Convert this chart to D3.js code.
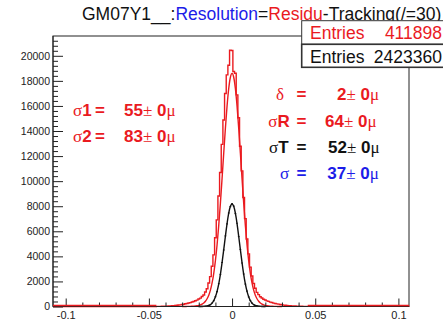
<!DOCTYPE html>
<html><head><meta charset="utf-8">
<script src="https://cdn.jsdelivr.net/npm/d3@7"></script>
<style>html,body{margin:0;padding:0;background:#fff;} svg{display:block;}</style>
</head><body>
<script>
// ---------- data ----------
const binWidth = 0.001;
const residuFirstBin = -0.045;          // centre of first bin
const residuCounts = [8,13,12,19,21,29,31,42,46,61,68,86,95,118,131,160,179,215,238,281,
  309,362,398,461,508,594,665,795,921,1160,1420,1870,2380,3210,4120,5480,6910,8820,10690,12930,
  14880,16990,18480,19250,20450,20420,18750,18610,16880,15060,12790,10820,8690,7010,5390,4200,
  3140,2430,1830,1450,1130,945,776,680,579,519,450,407,351,318,272,245,208,186,154,137,
  113,100,81,71,57,49,39,34,26,22,17,15,11,9,7];
const residuFitFirst = -0.030;
const residuFit = [2,3,4,6,9,14,20,30,44,64,93,134,196,286,420,616,902,1311,1879,2648,
  3657,4929,6470,8250,10211,12247,14226,15991,17391,18290,18600,18290,17391,15991,14226,12247,10211,8250,6470,4929,
  3657,2648,1879,1311,902,616,420,286,196,134,93,64,44,30,20,14,9,6,4,3,2];
const trackingFirstBin = -0.020;
const trackingCounts = [1,3,5,10,21,38,84,148,280,462,781,1190,1822,2551,3512,4510,5630,6590,7460,7970,
  8200,8010,7420,6640,5580,4550,3470,2590,1790,1220,760,475,268,155,78,42,18,8,4,2,1];
const trackingFit = [1,2,4,9,19,40,80,151,272,469,770,1207,1803,2569,3494,4531,5605,6613,7442,7989,
  8180,7989,7442,6613,5605,4531,3494,2569,1803,1207,770,469,272,151,80,40,19,9,4,2,1];
const xMajorTicks = [-0.1,-0.05,0,0.05,0.1];
const yMajorTicks = [0,2000,4000,6000,8000,10000,12000,14000,16000,18000,20000];
const leftFitLabels = [["σ","1"],["σ","2"]];
const leftFitValues = [55,83];
const leftFitErrors = [0,0];
const rightFitLabels = [["δ",""],["σ","R"],["σ","T"],["σ",""]];
const rightFitValues = [2,64,52,37];
const rightFitErrors = [0,0,0,0];
const entries = [411898, 2423360];
const titleParts = [["GM07Y1__:","#000"],["Resolution","blue"],["=","#000"],["Residu","red"],["-Tracking(/=30)","#000"]];

// ---------- setup ----------
const W = 443, H = 326;
const RED = "#ea1a1f", BLUE = "#1c1ce8", BLACK = "#111";
const SANS = "'Liberation Sans', Arial, Helvetica, sans-serif";
const SERIF = "'Liberation Serif', 'Times New Roman', serif";
const colorMap = {red: RED, blue: BLUE, "#000": "#111"};

const svg = d3.select("body").append("svg").attr("width", W).attr("height", H);
svg.append("rect").attr("width", W).attr("height", H).attr("fill", "#fff");

const frame = {left: 53, right: 409, top: 36, bottom: 306.5};
const x = d3.scaleLinear().domain([-0.1, 0.1]).range([65.7, 398.4]);
const y = d3.scaleLinear().domain([0, 20000]).range([306.5, 55.8]);
const xMin = x.invert(frame.left), xMax = x.invert(frame.right);
const yMax = y.invert(frame.top);

// frame
svg.append("rect").attr("x", frame.left).attr("y", frame.top)
  .attr("width", frame.right - frame.left).attr("height", frame.bottom - frame.top)
  .attr("fill", "none").attr("stroke", "#222").attr("stroke-width", 1);

// ---------- histograms ----------
function stepPoints(first, counts) {
  const pts = [[xMin, 0]];
  counts.forEach((v, i) => {
    const c = first + i * binWidth;
    pts.push([c - binWidth / 2, v], [c + binWidth / 2, v]);
  });
  pts.push([xMax, 0]);
  const out = [];
  for (let i = 0; i < pts.length; i++) {
    if (i > 0) out.push([pts[i][0], pts[i - 1][1]]);
    out.push(pts[i]);
  }
  return out;
}
const line = d3.line().x(d => x(d[0])).y(d => y(d[1]));
const smooth = d3.line().x(d => x(d[0])).y(d => y(d[1])).curve(d3.curveMonotoneX);

const g = svg.append("g");
// red histogram (Residu)
g.append("path").attr("d", line(stepPoints(residuFirstBin, residuCounts)))
  .attr("fill", "none").attr("stroke", RED).attr("stroke-width", 1.4);
// red fit
g.append("path").attr("d", smooth(residuFit.map((v, i) => [residuFitFirst + i * binWidth, v])))
  .attr("fill", "none").attr("stroke", RED).attr("stroke-width", 1.4);
// black tracking histogram (points with bin-width bars)
g.selectAll("line.tb").data(trackingCounts).enter().append("line")
  .attr("x1", (v, i) => x(trackingFirstBin + i * binWidth - binWidth / 2))
  .attr("x2", (v, i) => x(trackingFirstBin + i * binWidth + binWidth / 2))
  .attr("y1", v => y(v)).attr("y2", v => y(v))
  .attr("stroke", BLACK).attr("stroke-width", 1.2);
// black fit
g.append("path").attr("d", smooth(trackingFit.map((v, i) => [trackingFirstBin + i * binWidth, v])))
  .attr("fill", "none").attr("stroke", BLACK).attr("stroke-width", 1.4);

// ---------- axes ----------
const xMinor = d3.range(-10, 11).map(k => k / 100).filter(v => !xMajorTicks.some(m => Math.abs(m - v) < 1e-9));
const xAxisG = svg.append("g").attr("transform", `translate(0,${frame.bottom})`);
xAxisG.call(d3.axisBottom(x).tickValues(xMajorTicks).tickSize(-8).tickPadding(5)
  .tickFormat(d => d === 0 ? "0" : String(d)));
xAxisG.append("g").call(d3.axisBottom(x).tickValues(xMinor).tickSize(-4).tickFormat(""));
xAxisG.selectAll(".domain").remove();
xAxisG.selectAll("text").attr("font-family", SANS).attr("font-size", 11).attr("fill", "#222");
xAxisG.selectAll("line").attr("stroke", "#222");

const yMinor = d3.range(400, yMax, 400).filter(v => v % 2000 !== 0);
const yAxisG = svg.append("g").attr("transform", `translate(${frame.left},0)`);
yAxisG.call(d3.axisLeft(y).tickValues(yMajorTicks).tickSize(-10).tickPadding(3).tickFormat(d3.format("d")));
yAxisG.append("g").call(d3.axisLeft(y).tickValues(yMinor).tickSize(-5).tickFormat(""));
yAxisG.selectAll(".domain").remove();
yAxisG.selectAll("text").attr("font-family", SANS).attr("font-size", 10.5).attr("fill", "#222");
yAxisG.selectAll("line").attr("stroke", "#222");

// axis lines on top
svg.append("line").attr("x1", frame.left).attr("x2", frame.right).attr("y1", frame.bottom).attr("y2", frame.bottom).attr("stroke", "#222");
svg.append("line").attr("x1", frame.left).attr("x2", frame.left).attr("y1", frame.top).attr("y2", frame.bottom).attr("stroke", "#222");
// red baseline of histogram drawn over the axis
svg.append("path").attr("d", line([[xMin, 0], [residuFirstBin - binWidth / 2, 0]])).attr("stroke", RED).attr("stroke-width", 1.4).attr("transform", "translate(0,-1)");
svg.append("path").attr("d", line([[residuFirstBin + (residuCounts.length - 0.5) * binWidth, 0], [xMax, 0]])).attr("stroke", RED).attr("stroke-width", 1.4).attr("transform", "translate(0,-1)");

// ---------- title ----------
const title = svg.append("text").attr("x", 82).attr("y", 20).attr("font-family", SANS).attr("font-size", 17.5);
titleParts.forEach(([t, c]) => title.append("tspan").text(t).attr("fill", colorMap[c]));

// ---------- stats boxes ----------
const boxes = [{y: 20.7, h: 23.6, color: RED, sw: 1}, {y: 44.3, h: 23, color: "#111", sw: 1.6}];
boxes.forEach((b, i) => {
  svg.append("rect").attr("x", 301.7).attr("y", b.y).attr("width", 160).attr("height", b.h)
    .attr("fill", "#fff").attr("stroke", "#333").attr("stroke-width", b.sw);
  svg.append("text").attr("x", 310).attr("y", b.y + 18.5).attr("font-family", SANS).attr("font-size", 17.5)
    .attr("fill", b.color).text("Entries");
  svg.append("text").attr("x", 442).attr("y", b.y + 18.5).attr("font-family", SANS).attr("font-size", 17.5)
    .attr("fill", b.color).attr("text-anchor", "end").text(entries[i]);
});

// ---------- fit result texts ----------
function fitText(lx, ex, vx, by, lab, val, err, color) {
  const t = svg.append("text").attr("x", lx).attr("y", by).attr("fill", color).attr("font-size", 17);
  t.append("tspan").attr("font-family", SERIF).attr("font-size", 17).text(lab[0]);
  if (lab[1]) t.append("tspan").attr("font-family", SANS).attr("font-weight", "bold").text(lab[1]);
  svg.append("text").attr("x", ex).attr("y", by).attr("fill", color).attr("font-size", 17)
    .attr("font-family", SANS).attr("font-weight", "bold").text("=");
  const v = svg.append("text").attr("x", vx).attr("y", by).attr("fill", color).attr("font-size", 17);
  v.append("tspan").attr("font-family", SANS).attr("font-weight", "bold").text(val);
  v.append("tspan").attr("font-family", SERIF).text("±");
  v.append("tspan").attr("font-family", SANS).attr("font-weight", "bold").text(" " + err);
  v.append("tspan").attr("font-family", SERIF).text("μ");
}
const leftBase = [116, 142];
leftFitLabels.forEach((lab, i) => fitText(73, 95, 124, leftBase[i], lab, leftFitValues[i], leftFitErrors[i], RED));
const rightBase = [100, 126.5, 152.5, 178.5];
const rightLx = [276, 268.3, 269, 280];
const rightVx = [337, 325, 328, 327.3];
const rightColors = [RED, RED, "#111", BLUE];
rightFitLabels.forEach((lab, i) => fitText(rightLx[i], 296.5, rightVx[i], rightBase[i], lab, rightFitValues[i], rightFitErrors[i], rightColors[i]));
</script>
</body></html>
